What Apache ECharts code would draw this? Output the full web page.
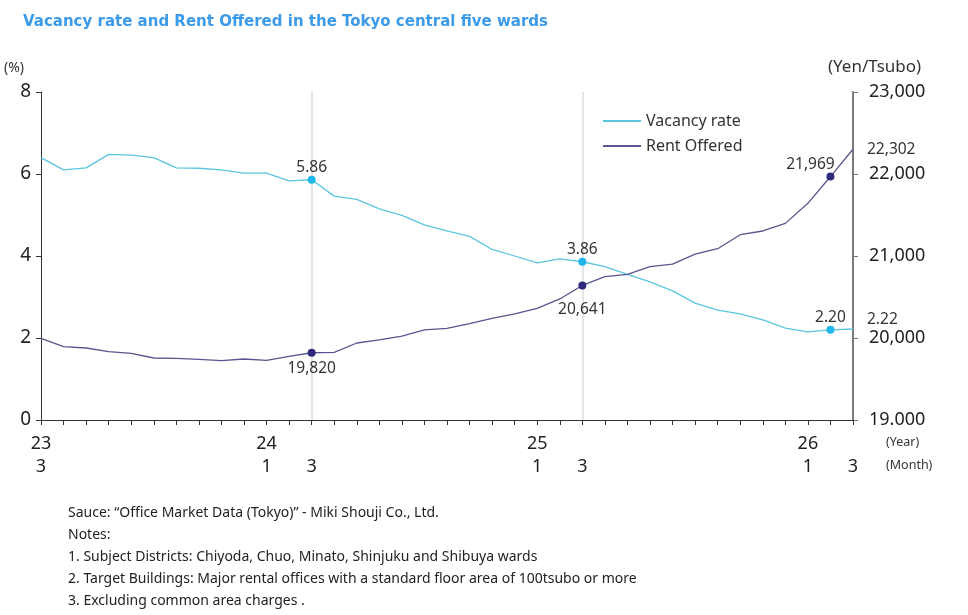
<!DOCTYPE html>
<html lang="en">
<head>
    <meta charset="UTF-8">
    <title>Vacancy rate and Rent Offered</title>
    <script src="https://cdn.jsdelivr.net/npm/echarts@6/dist/echarts.min.js"></script>
    <style>
        html, body { margin: 0; padding: 0; background: #fff; }
        #chart { width: 968px; height: 615px; }
    </style>
</head>
<body>
<div id="chart"></div>
<script type="text/javascript">
    // monthly, 2023/3 .. 2026/3
    var months = [
        '2023/3', '2023/4', '2023/5', '2023/6', '2023/7', '2023/8', '2023/9', '2023/10', '2023/11', '2023/12',
        '2024/1', '2024/2', '2024/3', '2024/4', '2024/5', '2024/6', '2024/7', '2024/8', '2024/9', '2024/10',
        '2024/11', '2024/12', '2025/1', '2025/2', '2025/3', '2025/4', '2025/5', '2025/6', '2025/7', '2025/8',
        '2025/9', '2025/10', '2025/11', '2025/12', '2026/1', '2026/2', '2026/3'
    ];
    var tickLabels = [
        '23\n3', '', '', '', '', '', '', '', '', '',
        '24\n1', '', ' \n3', '', '', '', '', '', '', '',
        '', '', '25\n1', '', ' \n3', '', '', '', '', '',
        '', '', '', '', '26\n1', '', ' \n3'
    ];
    var vacancy = [
        6.40, 6.10, 6.15, 6.48, 6.46, 6.40, 6.15, 6.14, 6.10, 6.02,
        6.02, 5.83, 5.86, 5.46, 5.38, 5.15, 4.99, 4.76, 4.61, 4.48,
        4.16, 4.00, 3.83, 3.93, 3.86, 3.74, 3.55, 3.37, 3.15, 2.85,
        2.68, 2.59, 2.44, 2.24, 2.15, 2.20, 2.22
    ];
    var rent = [
        19995, 19894, 19878, 19833, 19813, 19756, 19752, 19740, 19723, 19744,
        19728, 19777, 19820, 19825, 19939, 19976, 20024, 20098, 20118, 20175,
        20240, 20293, 20362, 20476, 20641, 20748, 20776, 20870, 20902, 21024,
        21089, 21260, 21305, 21398, 21642, 21969, 22302
    ];
    // months that get a dot and a value label
    var marked = [12, 24, 35];
    var guideMonths = ['2024/3', '2025/3'];

    var vacColor = '#5cc6e0', vacDot = '#1fb6ea';
    var rentColor = '#5b5490', rentDot = '#2e2b7c';
    var labelFont = { color: '#333', fontSize: 15.5, fontFamily: 'Noto Sans' };

    function buildVacancy() {
        return vacancy.map(function (v, i) {
            var item = { value: v };
            if (marked.indexOf(i) >= 0) {
                item.symbol = 'circle';
                item.symbolSize = 8;
                item.itemStyle = { color: vacDot };
                item.label = Object.assign({ show: true, position: 'top', distance: 0, formatter: v.toFixed(2) }, labelFont);
            }
            return item;
        });
    }

    function buildRent() {
        return rent.map(function (v, i) {
            var item = { value: v };
            var txt = v.toLocaleString('en-US');
            if (marked.indexOf(i) >= 0) {
                item.symbol = 'circle';
                item.symbolSize = 8;
                item.itemStyle = { color: rentDot };
                if (i === 35) {
                    item.label = Object.assign({ show: true, position: 'top', distance: 0, offset: [-20, 0], formatter: txt }, labelFont);
                } else {
                    item.label = Object.assign({ show: true, position: 'bottom', distance: i === 24 ? 12 : 4, formatter: txt }, labelFont);
                }
            }
            return item;
        });
    }

    var noteFont = '14px "Noto Sans"';
    var chart = echarts.init(document.getElementById('chart'));
    chart.setOption({
        animation: false,
        textStyle: { fontFamily: 'Noto Sans' },
        grid: { left: 41, right: 115, top: 92, bottom: 195, containLabel: false },
        legend: {
            orient: 'vertical',
            left: 598,
            top: 108,
            itemWidth: 38,
            itemHeight: 2,
            itemGap: 9,
            icon: 'rect',
            textStyle: { color: '#333', fontSize: 16, fontFamily: 'Noto Sans' },
            data: ['Vacancy rate', 'Rent Offered']
        },
        graphic: [
            { type: 'text', left: 23, top: 15, style: { text: 'Vacancy rate and Rent Offered in the Tokyo central five wards', fill: '#3c9be8', font: 'bold 15px "DejaVu Sans"' } },
            { type: 'text', left: 4, top: 61, style: { text: '(%)', fill: '#333', font: '14px "Noto Sans"' } },
            { type: 'text', left: 828, top: 59, style: { text: '(Yen/Tsubo)', fill: '#333', font: '17px "Noto Sans"' } },
            { type: 'text', left: 886, top: 436, style: { text: '(Year)', fill: '#333', font: '12.5px "Noto Sans"' } },
            { type: 'text', left: 886, top: 459, style: { text: '(Month)', fill: '#333', font: '12.5px "Noto Sans"' } },
            { type: 'text', left: 68, top: 506, style: { text: 'Sauce: \u201cOffice Market Data (Tokyo)\u201d - Miki Shouji Co., Ltd.', fill: '#222', font: noteFont } },
            { type: 'text', left: 68, top: 528, style: { text: 'Notes:', fill: '#222', font: noteFont } },
            { type: 'text', left: 68, top: 550, style: { text: '1. Subject Districts: Chiyoda, Chuo, Minato, Shinjuku and Shibuya wards', fill: '#222', font: noteFont } },
            { type: 'text', left: 68, top: 572, style: { text: '2. Target Buildings: Major rental offices with a standard floor area of 100tsubo or more', fill: '#222', font: noteFont } },
            { type: 'text', left: 68, top: 594, style: { text: '3. Excluding common area charges .', fill: '#222', font: noteFont } }
        ],
        xAxis: {
            type: 'category',
            data: months,
            boundaryGap: false,
            axisLine: { lineStyle: { color: '#333', width: 1 } },
            axisTick: { show: true, interval: 0, length: 5, lineStyle: { color: '#333' } },
            axisLabel: {
                interval: 0,
                color: '#222',
                fontSize: 18,
                lineHeight: 23,
                margin: 12,
                formatter: function (v, i) { return tickLabels[i]; }
            },
            splitLine: { show: false }
        },
        yAxis: [
            {
                type: 'value',
                min: 0,
                max: 8,
                interval: 2,
                position: 'left',
                axisLine: { show: true, lineStyle: { color: '#333', width: 1 } },
                axisTick: { show: true, length: 5, lineStyle: { color: '#333' } },
                axisLabel: { color: '#222', fontSize: 19, margin: 10 },
                splitLine: { show: false }
            },
            {
                type: 'value',
                min: 19000,
                max: 23000,
                interval: 1000,
                position: 'right',
                axisLine: { show: true, lineStyle: { color: '#7a7a7a', width: 2 } },
                axisTick: { show: true, length: 5, lineStyle: { color: '#7a7a7a' } },
                axisLabel: {
                    color: '#222',
                    fontSize: 18,
                    margin: 16,
                    formatter: function (v) { return v === 19000 ? '19.000' : v.toLocaleString('en-US'); }
                },
                splitLine: { show: false }
            }
        ],
        series: [
            {
                name: 'Vacancy rate',
                type: 'line',
                yAxisIndex: 0,
                data: buildVacancy(),
                symbol: 'none',
                showSymbol: true,
                lineStyle: { color: vacColor, width: 1.3 },
                itemStyle: { color: vacColor },
                endLabel: {
                    show: true,
                    distance: 14,
                    offset: [0, -9],
                    color: '#333',
                    fontSize: 15.5,
                    fontFamily: 'Noto Sans',
                    formatter: function (p) { return p.value.toFixed(2); }
                },
                z: 3,
                markLine: {
                    silent: true,
                    z: 1,
                    symbol: ['none', 'none'],
                    label: { show: false },
                    lineStyle: { color: '#dcdcdc', width: 1.5, type: 'solid' },
                    data: guideMonths.map(function (m) { return { xAxis: m }; })
                }
            },
            {
                name: 'Rent Offered',
                type: 'line',
                yAxisIndex: 1,
                data: buildRent(),
                symbol: 'none',
                showSymbol: true,
                lineStyle: { color: rentColor, width: 1.3 },
                itemStyle: { color: rentColor },
                endLabel: {
                    show: true,
                    distance: 14,
                    color: '#333',
                    fontSize: 15.5,
                    fontFamily: 'Noto Sans',
                    formatter: function (p) { return p.value.toLocaleString('en-US'); }
                },
                z: 3
            }
        ]
    });
</script>
</body>
</html>
